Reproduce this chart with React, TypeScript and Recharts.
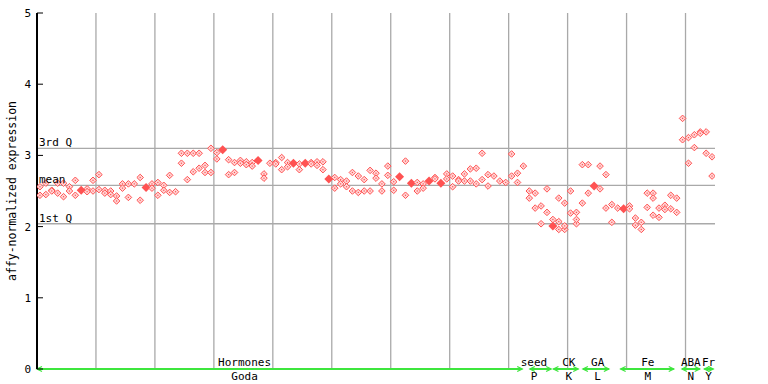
import {
  ScatterChart,
  Scatter,
  XAxis,
  YAxis,
  CartesianGrid,
  ReferenceLine,
} from 'recharts';

// expression per sample (two replicates, a few samples carry a third)
const rep1 = [
  2.56, 2.61, 2.51, 2.61, 2.61, 2.56, 2.65, 2.51, 2.53, 2.65,
  2.73, 2.51, 2.5, 2.43, 2.6, 2.6, 2.6, 2.69, 2.55, 2.6,
  2.62, 2.58, 2.72, 2.49, 3.03, 3.03, 3.03, 3.03, 2.86, 3.1,
  3.04, 3.08, 2.94, 2.9, 2.93, 2.91, 2.9, 2.93, 2.74, 2.89,
  2.9, 2.97, 2.9, 2.89, 2.88, 2.89, 2.9, 2.91, 2.91, 2.67,
  2.69, 2.66, 2.64, 2.76, 2.71, 2.66, 2.79, 2.75, 2.6, 2.85,
  2.63, 2.7, 2.92, 2.61, 2.62, 2.6, 2.64, 2.69, 2.61, 2.74,
  2.71, 2.66, 2.74, 2.81, 2.82, 3.03, 2.73, 2.71, 2.64, 2.62,
  3.02, 2.75, 2.85, 2.5, 2.47, 2.29, 2.53, 2.01, 2.4, 2.33,
  2.5, 2.2, 2.87, 2.87, 2.57, 2.85, 2.73, 2.31, 2.26, 2.25,
  2.29, 2.12, 2.06, 2.47, 2.47, 2.26, 2.3, 2.44, 2.4, 3.52,
  3.25, 3.29, 3.33, 3.33, 2.98,
];
const rep2 = [
  2.44, 2.45, 2.5, 2.47, 2.42, 2.5, 2.44, null, 2.49, 2.5,
  2.52, 2.47, 2.45, 2.36, 2.54, 2.41, null, 2.37, null, 2.54,
  2.44, 2.51, 2.48, null, 2.89, 2.66, 2.77, 2.82, 2.76, 2.76,
  2.95, null, 2.73, 2.76, 2.89, 2.87, 2.85, null, 2.68, null,
  2.88, 2.8, 2.84, null, 2.8, null, 2.88, 2.86, 2.8, null,
  2.54, 2.6, 2.56, 2.5, 2.48, 2.5, 2.5, 2.68, 2.5, 2.72,
  2.51, null, 2.44, null, 2.5, 2.54, null, 2.67, null, 2.67,
  2.56, 2.64, 2.64, 2.64, 2.6, 2.66, 2.57, null, null, null,
  2.71, 2.62, null, 2.4, 2.26, 2.04, 2.2, 2.1, 2.07, 1.96,
  2.19, 2.04, 2.33, 2.47, null, 2.53, 2.26, 2.06, null, null,
  2.25, 2.02, 1.96, 2.27, 2.16, 2.13, 2.24, 2.25, 2.2, 3.22,
  2.89, 3.11, 3.31, 3.03, 2.71,
];
const extraIdx = [88, 89, 91, 104];
const extraVal = [1.96, 2.01, 2.1, 2.4];
const solidIdx = [7, 18, 31, 37, 43, 45, 49, 61, 63, 66, 68, 87, 94, 99];

const quartiles = [
  { label: '3rd Q', value: 3.1 },
  { label: 'mean', value: 2.58 },
  { label: '1st Q', value: 2.04 },
];

const groupNames = ['Hormones', 'seed', 'CK', 'GA', 'Fe', 'ABA', 'Fr'];
const groupSub = ['Goda', 'P', 'K', 'L', 'M', 'N', 'Y'];
const groupStart = [0, 83.6, 87.6, 92.6, 99, 109.4, 113.2];
const groupEnd = [82.3, 87.2, 91.8, 97, 108, 112.4, 114.7];
const groupLabelAt = [35.2, 84.3, 90.2, 95.1, 103.6, 110.9, 113.9];

const yTicks = [0, 1, 2, 3, 4, 5];
const rightTicks = [2, 3];
const gridX = [10, 20, 30, 40, 50, 60, 70, 80, 90, 100, 110];
const nSamples = rep1.length;

const FONT = '"DejaVu Sans Mono", monospace';
const RED = '#ff5252';
const GREEN = '#3ee63e';
const GRID = '#a9a9a9';

const points: { x: number; y: number; solid: boolean }[] = [];
rep1.forEach((v, i) => {
  points.push({ x: i + 0.5, y: v, solid: solidIdx.includes(i) });
  const v2 = rep2[i];
  if (v2 !== null) points.push({ x: i + 0.5, y: v2, solid: false });
});
extraIdx.forEach((i, j) => points.push({ x: i + 0.5, y: extraVal[j], solid: false }));

const Diamond = (props: any) => {
  const { cx, cy, payload } = props;
  if (payload.solid) {
    const r = 4.5;
    return (
      <polygon
        points={`${cx},${cy - r} ${cx + r},${cy} ${cx},${cy + r} ${cx - r},${cy}`}
        fill={RED}
      />
    );
  }
  const r = 3.3;
  return (
    <g>
      <polygon
        points={`${cx},${cy - r} ${cx + r},${cy} ${cx},${cy + r} ${cx - r},${cy}`}
        fill="#ffd6d6"
        stroke={RED}
        strokeWidth={1}
      />
      <rect x={cx - 0.6} y={cy - 0.6} width={1.2} height={1.2} fill={RED} />
    </g>
  );
};

const LeftTick = (props: any) => {
  const { x, y, payload } = props;
  return (
    <g>
      <line x1={x + 6} x2={x + 12} y1={y} y2={y} stroke="#000" />
      <text x={x} y={y} dy={4} textAnchor="end" fontFamily={FONT} fontSize={11} fill="#000">
        {payload.value}
      </text>
    </g>
  );
};

const RightTick = (props: any) => {
  const { x, y } = props;
  return <line x1={x - 6} x2={x} y1={y} y2={y} stroke="#000" />;
};

const GroupTick = (props: any) => {
  const { x, y, index } = props;
  return (
    <g fontFamily={FONT} fontSize={11} fill="#000">
      <text x={x} y={y - 3} textAnchor="middle">{groupNames[index]}</text>
      <text x={x} y={y + 11} textAnchor="middle">{groupSub[index]}</text>
    </g>
  );
};

const GroupSpan = (props: any) => {
  const { x1, x2, y1 } = props;
  if (x1 == null) return null;
  const y = y1;
  return (
    <g stroke={GREEN} fill="none">
      <line x1={x1} x2={x2} y1={y} y2={y} strokeWidth={2} />
      <polyline points={`${x2 - 5},${y - 2.5} ${x2},${y} ${x2 - 5},${y + 2.5}`} strokeWidth={1.3} />
      <polyline points={`${x1 + 5},${y - 2.5} ${x1},${y} ${x1 + 5},${y + 2.5}`} strokeWidth={1.3} />
    </g>
  );
};

const AxisTitle = (props: any) => {
  const { viewBox } = props;
  const cx = viewBox.x + 12;
  const cy = viewBox.y + viewBox.height / 2;
  return (
    <text
      x={cx}
      y={cy}
      transform={`rotate(-90 ${cx} ${cy})`}
      textAnchor="middle"
      dominantBaseline="central"
      fontFamily={FONT}
      fontSize={11.5}
      fill="#000"
    >
      affy-normalized expression
    </text>
  );
};

export default function App() {
  return (
    <div style={{ position: 'absolute', left: 0, top: 0, background: '#fff' }}>
      <ScatterChart width={768} height={384} margin={{ top: 13, right: 53, bottom: 0, left: 0 }}>
        <CartesianGrid horizontal={false} verticalValues={gridX} stroke={GRID} strokeWidth={1.3} />
        <XAxis
          type="number"
          dataKey="x"
          domain={[0, nSamples]}
          ticks={groupLabelAt}
          interval={0}
          height={15}
          axisLine={false}
          tickLine={false}
          tickSize={0}
          tickMargin={0}
          tick={<GroupTick />}
          allowDataOverflow
        />
        <XAxis xAxisId="top" orientation="top" type="number" domain={[0, nSamples]} height={0} tick={false} tickLine={false} axisLine={{ stroke: '#000', strokeWidth: 2 }} />
        <YAxis
          type="number"
          dataKey="y"
          domain={[0, 5]}
          ticks={yTicks}
          width={37}
          tickSize={0}
          tickMargin={6}
          tick={<LeftTick />}
          axisLine={{ stroke: '#000', strokeWidth: 2 }}
          label={<AxisTitle />}
        />
        <YAxis
          yAxisId="right"
          orientation="right"
          type="number"
          domain={[0, 5]}
          ticks={rightTicks}
          width={0}
          tickSize={0}
          tickMargin={0}
          tick={<RightTick />}
          axisLine={{ stroke: '#000', strokeWidth: 2 }}
        />
        {quartiles.map((q) => (
          <ReferenceLine
            key={q.label}
            y={q.value}
            stroke={GRID}
            strokeWidth={1.3}
            label={{ value: q.label, position: 'insideBottomLeft', offset: 2, fontFamily: FONT, fontSize: 11, fill: '#000' }}
          />
        ))}
        <Scatter data={points} shape={Diamond} isAnimationActive={false} />
        {groupNames.map((g, i) => (
          <ReferenceLine
            key={g}
            segment={[{ x: groupStart[i], y: 0 }, { x: groupEnd[i], y: 0 }]}
            ifOverflow="visible"
            shape={<GroupSpan />}
          />
        ))}
      </ScatterChart>
    </div>
  );
}
